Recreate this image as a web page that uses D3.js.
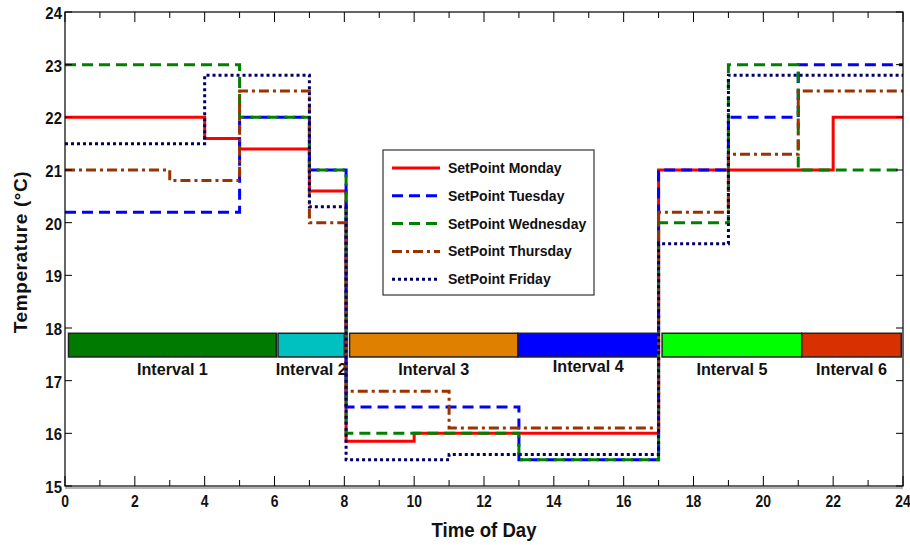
<!DOCTYPE html>
<html>
<head>
<meta charset="utf-8">
<script src="https://cdn.jsdelivr.net/npm/d3@7"></script>
<style>
  body { margin: 0; background: #fff; }
  svg text { font-family: 'Liberation Sans', Arial, Helvetica, sans-serif; font-weight: bold; fill: #111; }
</style>
</head>
<body>
<div id="chart"></div>
<script>
// step breakpoints (hour) and setpoint values (°C)
const mondayTimes = [0, 4, 5, 7, 8.05, 10, 17, 22, 24];
const mondayValues = [22, 21.6, 21.4, 20.6, 15.85, 16, 21, 22, 22];
const tuesdayTimes = [0, 5, 7, 8.05, 13, 17, 19, 21, 24];
const tuesdayValues = [20.2, 22, 21, 16.5, 15.5, 21, 22, 23, 23];
const wednesdayTimes = [0, 5, 7, 8.05, 13, 17, 19, 21, 24];
const wednesdayValues = [23, 22, 21, 16, 15.5, 20, 23, 21, 21];
const thursdayTimes = [0, 3, 5, 7, 8.05, 11, 17, 19, 21, 24];
const thursdayValues = [21, 20.8, 22.5, 20, 16.8, 16.1, 20.2, 21.3, 22.5, 22.5];
const fridayTimes = [0, 4, 7, 8.05, 11, 17, 19, 24];
const fridayValues = [21.5, 22.8, 20.3, 15.5, 15.6, 19.6, 22.8, 22.8];

const intervalNames = ["Interval 1", "Interval 2", "Interval 3", "Interval 4", "Interval 5", "Interval 6"];
const intervalStart = [0.1, 6.1, 8.15, 12.97, 17.1, 21.1];
const intervalEnd = [6.05, 8.0, 12.97, 17.0, 21.1, 23.95];
const intervalColors = ["#007a00", "#00c0c0", "#e08000", "#0000ff", "#00ff00", "#d83000"];

const xTicks = d3.range(0, 25, 1);
const xLabels = d3.range(0, 25, 2);
const yTicks = d3.range(15, 25, 1);

const series = [
  { name: "SetPoint Monday", times: mondayTimes, values: mondayValues, color: "#ff0000", dash: null },
  { name: "SetPoint Tuesday", times: tuesdayTimes, values: tuesdayValues, color: "#0000ff", dash: "11,6" },
  { name: "SetPoint Wednesday", times: wednesdayTimes, values: wednesdayValues, color: "#008000", dash: "11,6" },
  { name: "SetPoint Thursday", times: thursdayTimes, values: thursdayValues, color: "#993300", dash: "10,4,3,4" },
  { name: "SetPoint Friday", times: fridayTimes, values: fridayValues, color: "#000066", dash: "3,3" }
];

const width = 910, height = 545;
const margin = { left: 65, right: 7, top: 12, bottom: 59 };

const svg = d3.select("#chart").append("svg")
  .attr("width", width)
  .attr("height", height);

const x = d3.scaleLinear().domain([0, 24]).range([margin.left, width - margin.right]);
const y = d3.scaleLinear().domain([15, 24]).range([height - margin.bottom, margin.top]);

// narrow-looking text: squeeze horizontally
function narrowText(px, py, str, size, anchor, sx) {
  svg.append("text")
    .attr("transform", `translate(${px},${py}) scale(${sx},1)`)
    .attr("text-anchor", anchor)
    .style("font-size", size + "px")
    .text(str);
}

// interval bars
intervalNames.forEach((name, i) => {
  svg.append("rect")
    .attr("x", x(intervalStart[i]))
    .attr("y", y(17.9))
    .attr("width", x(intervalEnd[i]) - x(intervalStart[i]))
    .attr("height", y(17.45) - y(17.9))
    .attr("fill", intervalColors[i])
    .attr("stroke", "#222")
    .attr("stroke-width", 1.5);

  narrowText((x(intervalStart[i]) + x(intervalEnd[i])) / 2,
    i === 3 ? y(17.16) : y(17.1), name, 17, "middle", 0.95);
});

// setpoint lines
const line = d3.line()
  .x(d => x(d[0]))
  .y(d => y(d[1]))
  .curve(d3.curveStepAfter);

series.forEach(s => {
  const pts = s.times.map((t, i) => [t, s.values[i]]);
  svg.append("path")
    .attr("d", line(pts))
    .attr("fill", "none")
    .attr("stroke", s.color)
    .attr("stroke-width", 3)
    .attr("stroke-dasharray", s.dash);
});

// box and ticks (inward, matlab style)
const x0 = x(0), x1 = x(24), y0 = y(15), y1 = y(24);
svg.append("rect")
  .attr("x", x0).attr("y", y1)
  .attr("width", x1 - x0).attr("height", y0 - y1)
  .attr("fill", "none").attr("stroke", "#000").attr("stroke-width", 1.2);
svg.append("line")
  .attr("x1", x0).attr("x2", x1).attr("y1", y0 + 2).attr("y2", y0 + 2)
  .attr("stroke", "#666").attr("stroke-width", 1);

xTicks.forEach(t => {
  const len = t % 2 === 0 ? 10 : 6;
  svg.append("line").attr("x1", x(t)).attr("x2", x(t)).attr("y1", y0).attr("y2", y0 - len)
    .attr("stroke", "#000");
  svg.append("line").attr("x1", x(t)).attr("x2", x(t)).attr("y1", y1).attr("y2", y1 + len)
    .attr("stroke", "#000");
});
yTicks.forEach(t => {
  svg.append("line").attr("x1", x0).attr("x2", x0 + 7).attr("y1", y(t)).attr("y2", y(t))
    .attr("stroke", "#000");
  svg.append("line").attr("x1", x1).attr("x2", x1 - 7).attr("y1", y(t)).attr("y2", y(t))
    .attr("stroke", "#000");
});

xLabels.forEach(t => narrowText(x(t), y0 + 21, t, 17, "middle", 0.82));
yTicks.forEach(t => narrowText(x0 - 3, y(t) + 7, t, 17, "end", 0.88));

// axis titles
narrowText((x0 + x1) / 2, 537, "Time of Day", 20, "middle", 0.93);

svg.append("text")
  .attr("transform", `translate(27, 252) rotate(-90)`)
  .attr("text-anchor", "middle")
  .style("font-size", "19px")
  .style("letter-spacing", "0.6px")
  .text("Temperature (°C)");

// legend
const legend = svg.append("g").attr("transform", "translate(383, 150)");
legend.append("rect")
  .attr("width", 211).attr("height", 145)
  .attr("fill", "#fff").attr("stroke", "#333").attr("stroke-width", 1.2);

series.forEach((s, i) => {
  const ry = 18 + i * 27.8;
  legend.append("line")
    .attr("x1", 9).attr("x2", 57)
    .attr("y1", ry).attr("y2", ry)
    .attr("stroke", s.color)
    .attr("stroke-width", 3)
    .attr("stroke-dasharray", s.dash);
  legend.append("text")
    .attr("x", 65)
    .attr("y", ry + 5)
    .style("font-size", "14px")
    .text(s.name);
});
</script>
</body>
</html>
